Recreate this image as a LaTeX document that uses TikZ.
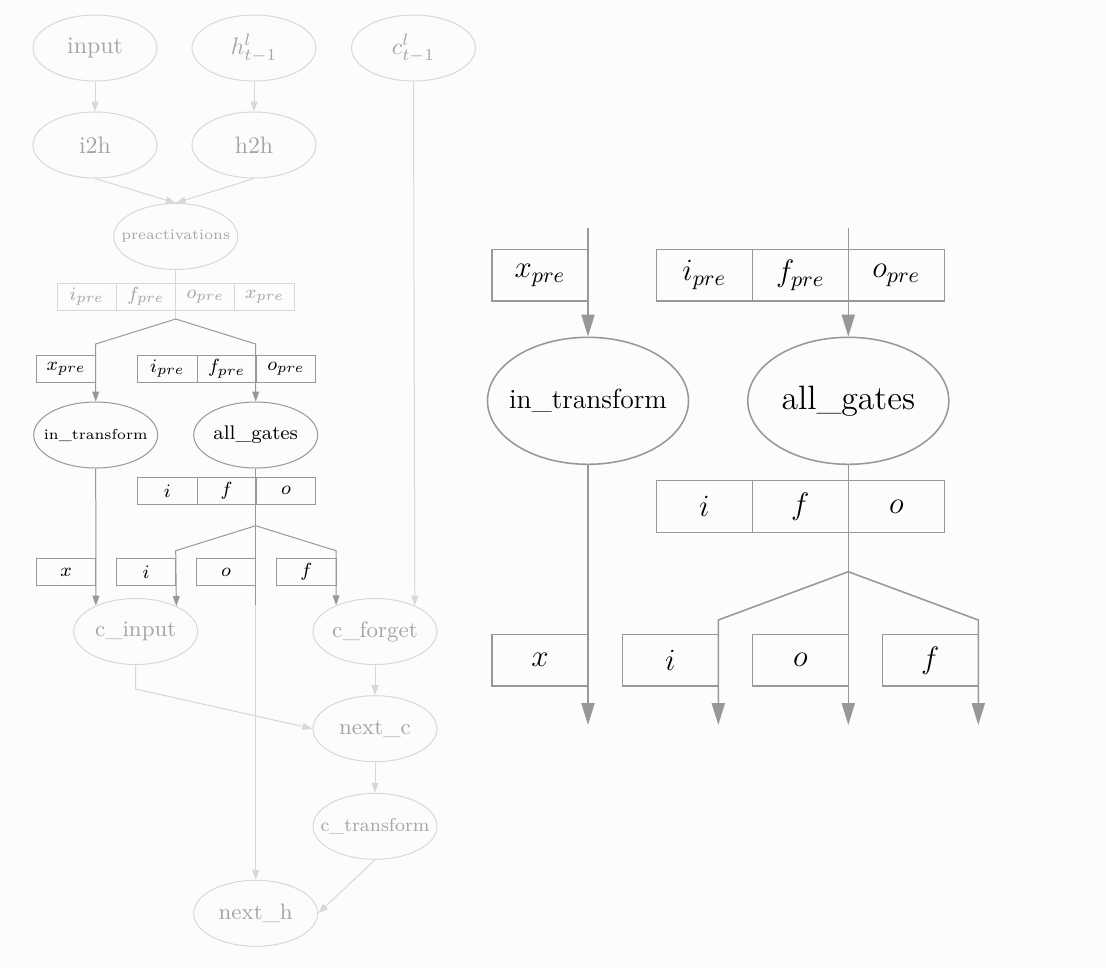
\RequirePackage{fix-cm}
\documentclass[tikz,border=0pt]{standalone}
\usetikzlibrary{positioning,shapes.geometric,arrows.meta}

\definecolor{paper}{RGB}{252,252,252}
\definecolor{fadedgray}{RGB}{216,216,216}
\definecolor{fadedtext}{RGB}{165,165,165}
\definecolor{linegray}{RGB}{152,152,152}

\newcommand\pxu{0.42pt}
% keep long labels from widening the ellipses
\newcommand\fixw[1]{\makebox[0pt]{#1}}

\tikzset{
  fadednode/.style={ellipse, draw=fadedgray, line width=0.42pt, text=fadedtext, inner sep=0pt,
    minimum width=124*\pxu, minimum height=66*\pxu, font=\fontsize{10}{12}\selectfont},
  namednode/.style={fadednode, font=\fontsize{9.4}{11}\selectfont},
  gatenode/.style={fadednode, draw=linegray, text=black},
  bignode/.style={ellipse, draw=linegray, line width=0.65pt, inner sep=0pt,
    minimum width=201*\pxu, minimum height=127*\pxu},
  fadedcell/.style={rectangle, draw=fadedgray, line width=0.42pt, text=fadedtext, inner sep=0pt, outer sep=0pt,
    minimum width=59.3*\pxu, minimum height=27*\pxu, font=\fontsize{8}{10}\selectfont},
  gatecell/.style={fadedcell, draw=linegray, text=black},
  bigcell/.style={rectangle, draw=linegray, line width=0.65pt, inner sep=0pt, outer sep=0pt,
    minimum width=96*\pxu, minimum height=51.7*\pxu, font=\fontsize{13}{15}\selectfont},
  fadedwire/.style={draw=fadedgray, line width=0.42pt},
  fadedarrow/.style={fadedwire, -{Triangle[length=4.2pt,width=2.9pt]}},
  gatewire/.style={draw=linegray, line width=0.42pt},
  gatearrow/.style={gatewire, -{Triangle[length=4.2pt,width=2.9pt]}},
  bigwire/.style={draw=linegray, line width=0.65pt},
  bigarrow/.style={bigwire, -{Triangle[length=9.2pt,width=5.5pt]}},
}

\begin{document}
\begin{tikzpicture}[x=0.42pt, y=-0.42pt]

    \fill[paper] (0,0) rectangle (1106,968);

    % Add the faded graph
    \node[fadednode] (input) at (95,48) {input};
    \node[fadednode] (hprev) at (254,48) {$h^l_{t-1}$};
    \node[fadednode] (cprev) at (413.5,48) {$c^l_{t-1}$};
    \node[fadednode] (i2h) at (95,145) {i2h};
    \node[fadednode] (h2h) at (254,145) {h2h};
    \node[fadednode, font=\fontsize{6.1}{8}\selectfont] (preact) at (175.7,236.5) {\fixw{preactivations}};
    \node[fadedcell] (pi) at (86.65,296.5) {$i_{pre}$};
    \node[fadedcell, right=0pt of pi] (pf) {$f_{pre}$};
    \node[fadedcell, right=0pt of pf] (po) {$o_{pre}$};
    \node[fadedcell, right=0pt of po] (px) {$x_{pre}$};
    \node[namednode] (cinput) at (135.7,631.5) {c\_input};
    \node[namednode] (cforget) at (375,631.5) {c\_forget};
    \node[namednode] (nextc) at (375,728.7) {next\_c};
    \node[fadednode, font=\fontsize{7.9}{10}\selectfont] (ctrans) at (375,826.3) {\fixw{c\_transform}};
    \node[namednode] (nexth) at (255.7,913.3) {next\_h};

    % Add the gates part of the small graph
    \node[gatecell] (xpre) at (66.05,368.8) {$x_{pre}$};
    \node[gatecell] (gi) at (167.35,368.8) {$i_{pre}$};
    \node[gatecell, right=0pt of gi] (gf) {$f_{pre}$};
    \node[gatecell, right=0pt of gf] (go) {$o_{pre}$};
    \node[gatenode, font=\fontsize{6.1}{8}\selectfont] (intrans) at (95.7,435) {\fixw{in\_transform}};
    \node[gatenode, font=\fontsize{8.3}{10}\selectfont] (allg) at (255.7,435) {all\_gates};
    \node[gatecell] (oi) at (167.35,490.7) {$i$};
    \node[gatecell, right=0pt of oi] (of) {$f$};
    \node[gatecell, right=0pt of of] (oo) {$o$};
    \node[gatecell] (bx) at (66.05,572) {$x$};
    \node[gatecell] (bi) at (146.05,572) {$i$};
    \node[gatecell] (bo) at (226.05,572) {$o$};
    \node[gatecell] (bf) at (306.35,572) {$f$};

    \coordinate (split1) at (175.7,319);
    \coordinate (split1l) at (95.7,344);
    \coordinate (split1r) at (255.7,344);
    \coordinate (split2) at (255.7,525.7);
    \coordinate (split2l) at (175.7,550.7);
    \coordinate (split2r) at (336,550.7);
    \coordinate (gatesend) at (255.7,605);
    \coordinate (cbend) at (135.7,689);

    % Connect the faded nodes
    \path
        (input) edge[fadedarrow] (i2h)
        (hprev) edge[fadedarrow] (h2h)
        (i2h.south) edge[fadedarrow] (preact.north)
        (h2h.south) edge[fadedarrow] (preact.north)
        (cprev.south) edge[fadedarrow] (cforget.33.3)
        (cforget) edge[fadedarrow] (nextc)
        (nextc) edge[fadedarrow] (ctrans)
        (ctrans.south) edge[fadedarrow] (nexth.east)
        (gatesend) edge[fadedarrow] (nexth.north)
        (preact.south) edge[fadedwire] (split1);
    \draw[fadedarrow] (cinput.south) -- (cbend) -- (nextc.west);

    % Connect the gates
    \draw[gatearrow] (split1) -- (split1l) -- (intrans.north);
    \draw[gatearrow] (split1) -- (split1r) -- (allg.north);
    \draw[gatearrow] (intrans.south) -- (cinput.147.8);
    \draw[gatewire] (allg.south) -- (gatesend);
    \draw[gatearrow] (split2) -- (split2l) -- (cinput.32.2);
    \draw[gatearrow] (split2) -- (split2r) -- (cforget.146.7);

    % Add the large copy of the gates
    \node[bigcell] (rxpre) at (540,275.2) {$x_{pre}$};
    \node[bigcell] (rgi) at (704.3,275.2) {$i_{pre}$};
    \node[bigcell, right=0pt of rgi] (rgf) {$f_{pre}$};
    \node[bigcell, right=0pt of rgf] (rgo) {$o_{pre}$};
    \node[bignode, font=\fontsize{11.6}{14}\selectfont] (rintrans) at (588,400.8) {\fixw{in\_transform}};
    \node[bignode, font=\fontsize{14.2}{17}\selectfont] (rallg) at (848.3,400.8) {\fixw{all\_gates}};
    \node[bigcell] (roi) at (704.3,506.5) {$i$};
    \node[bigcell, right=0pt of roi] (rof) {$f$};
    \node[bigcell, right=0pt of rof] (roo) {$o$};
    \node[bigcell] (rbx) at (540,660.3) {$x$};
    \node[bigcell] (rbi) at (670.3,660.3) {$i$};
    \node[bigcell] (rbo) at (800.3,660.3) {$o$};
    \node[bigcell] (rbf) at (930.3,660.3) {$f$};

    \coordinate (rin1) at (588,228.3);
    \coordinate (rin2) at (848.3,228.3);
    \coordinate (rsplit) at (848.3,571.7);
    \coordinate (rsplitl) at (718.3,620);
    \coordinate (rsplitr) at (978.3,620);
    \coordinate (rout1) at (588,725);
    \coordinate (rout2) at (718.3,725);
    \coordinate (rout3) at (848.3,725);
    \coordinate (rout4) at (978.3,725);

    % Connect the large gates
    \path
        (rin1) edge[bigarrow] (rintrans.north)
        (rin2) edge[bigarrow] (rallg.north)
        (rintrans.south) edge[bigarrow] (rout1)
        (rallg.south) edge[bigwire] (rsplit);
    \draw[bigarrow] (rsplit) -- (rsplitl) -- (rout2);
    \draw[bigarrow] (rsplit) -- (rsplitr) -- (rout4);
    \draw[bigarrow] (rsplit) -- (rout3);

\end{tikzpicture}
\end{document}
